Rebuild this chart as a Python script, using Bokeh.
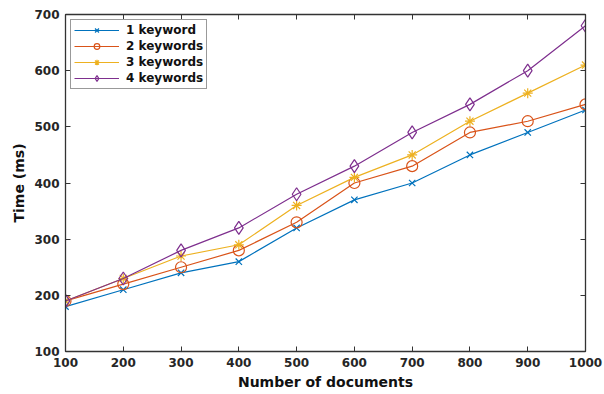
from bokeh.plotting import figure
from bokeh.models import Range1d, LinearAxis, FixedTicker
from bokeh.embed import file_html
from bokeh.resources import INLINE

docs = [100, 200, 300, 400, 500, 600, 700, 800, 900, 1000]
kw1 = [180, 210, 240, 260, 320, 370, 400, 450, 490, 530]
kw2 = [190, 220, 250, 280, 330, 400, 430, 490, 510, 540]
kw3 = [190, 230, 270, 290, 360, 410, 450, 510, 560, 610]
kw4 = [190, 230, 280, 320, 380, 430, 490, 540, 600, 680]
y_ticks = [100, 200, 300, 400, 500, 600, 700]
labels = ["1 keyword", "2 keywords", "3 keywords", "4 keywords"]

FONT = "DejaVu Sans"
AX = "#333333"

p = figure(width=604, height=394, output_backend="svg", toolbar_location=None,
           x_range=Range1d(100, 1000), y_range=Range1d(100, 700),
           min_border_left=65, min_border_right=19, min_border_top=14,
           min_border_bottom=43, background_fill_color="white")
p.grid.visible = False
p.outline_line_color = AX

p.xaxis.ticker = FixedTicker(ticks=docs)
p.yaxis.ticker = FixedTicker(ticks=y_ticks)
p.xaxis.axis_label = "Number of documents"
p.yaxis.axis_label = "Time (ms)"
for ax in [p.xaxis[0], p.yaxis[0]]:
    ax.major_tick_in = 5
    ax.major_tick_out = 0
    ax.minor_tick_line_color = None
    ax.axis_line_color = AX
    ax.axis_line_width = 1.3
    ax.major_tick_line_color = AX
    ax.major_label_text_font = FONT
    ax.major_label_text_font_style = "bold"
    ax.major_label_text_font_size = "12px"
    ax.major_label_text_color = "#262626"
    ax.axis_label_text_font = FONT
    ax.axis_label_text_font_style = "bold"
    ax.axis_label_text_font_size = "14px"
    ax.axis_label_text_color = "#111111"
    ax.major_label_standoff = 6
    ax.axis_label_standoff = 4

for side, ticks in [("above", docs), ("right", y_ticks)]:
    a = LinearAxis(ticker=FixedTicker(ticks=ticks), major_label_text_color=None,
                   major_label_standoff=0, major_tick_in=5, major_tick_out=0,
                   minor_tick_line_color=None, axis_line_color=AX, axis_line_width=1.3,
                   major_tick_line_color=AX)
    p.add_layout(a, side)

series = [kw1, kw2, kw3, kw4]
colors = ["#0072BD", "#D95319", "#EDB120", "#7E2F8E"]
markers = ["x", "circle", "asterisk", "diamond"]
sizes = [9, 11, 10, 13]
for ys, c, m, s, lab in zip(series, colors, markers, sizes, labels):
    p.line(docs, ys, line_color=c, line_width=1.2, legend_label=lab)
    p.scatter(docs, ys, marker=m, size=s,
              line_color=c, fill_color=None, line_width=1.2, legend_label=lab)

lg = p.legend[0]
lg.location = "top_left"
lg.margin = 5
lg.padding = 3
lg.spacing = 2
lg.glyph_width = 45
lg.glyph_height = 14
lg.label_height = 14
lg.label_standoff = 7
lg.label_text_font = FONT
lg.label_text_font_style = "bold"
lg.label_text_font_size = "12px"
lg.label_text_color = "#111111"
lg.border_line_color = AX
lg.border_line_width = 1
lg.background_fill_color = "white"
lg.background_fill_alpha = 1

open("out.html", "w").write(file_html(p, INLINE))
